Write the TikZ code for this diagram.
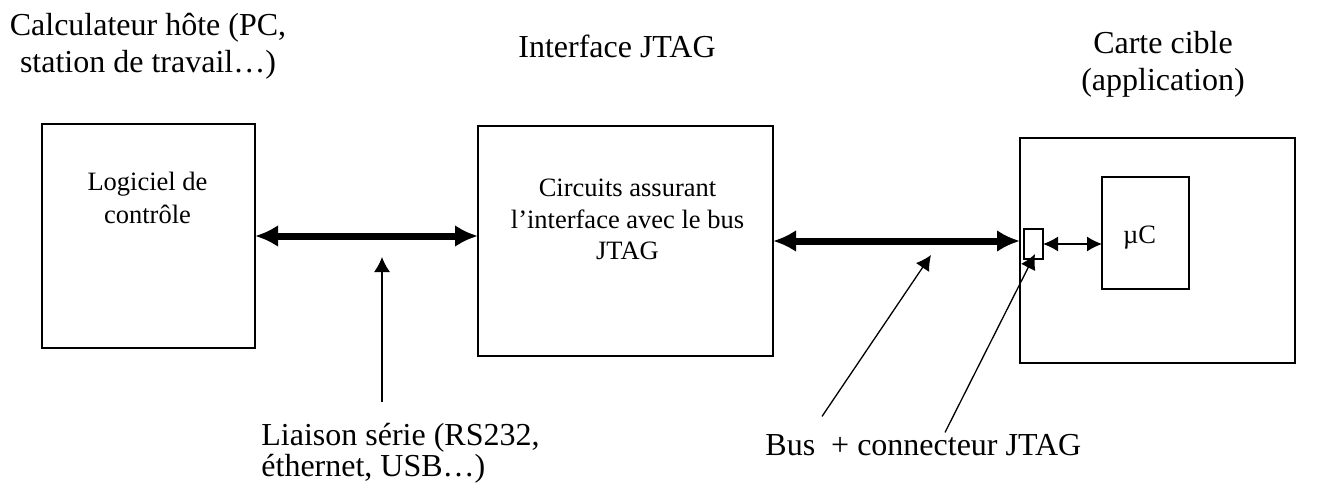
\documentclass[tikz,border=0pt]{standalone}
\usepackage{fontspec}
\setmainfont{Liberation Serif}
\usetikzlibrary{arrows.meta,calc}

\begin{document}
\begin{tikzpicture}[x=0.5pt,y=-0.5pt,
  bloc/.style={draw,line width=0.75pt,inner sep=0pt,outer sep=0pt},
  grandtexte/.style={font=\fontsize{16pt}{18.5pt}\selectfont,inner sep=0pt,align=center},
  petittexte/.style={font=\fontsize{13.25pt}{16.5pt}\selectfont,inner sep=0pt,align=center},
  lienbus/.style={line width=3.5pt,{Latex[length=11.5pt,width=11pt]}-{Latex[length=11.5pt,width=11pt]}},
  pointeur/.style={line width=0.65pt,-{Latex[length=7.5pt,width=8pt]}},
  doublefleche/.style={line width=0.65pt,{Latex[length=7.5pt,width=7.5pt]}-{Latex[length=7.5pt,width=7.5pt]}}]
\useasboundingbox (0,0) rectangle (1320,486);
% titres au-dessus des blocs
\node[grandtexte,anchor=north] (titrehote) at (148,13) {Calculateur hôte (PC,\\station de travail…)};
\node[grandtexte,anchor=base] (titrejtag) at (617,58) {Interface JTAG};
\node[grandtexte,anchor=north] (titrecarte) at (1163,31) {Carte cible\\(application)};
% blocs
\node[bloc,minimum width=106.5pt,minimum height=112pt] (hote) at (148.5,236) {};
\node[bloc,minimum width=147.5pt,minimum height=115pt] (jtag) at (625.5,241) {};
\node[bloc,minimum width=137.5pt,minimum height=112.5pt] (carte) at (1157.5,250.5) {};
\node[bloc,minimum width=43.5pt,minimum height=56pt,text height=12pt,text depth=2pt,
  font=\fontsize{13.25pt}{16pt}\selectfont] (uc) at (1145.5,233) {\hspace*{-6pt}µC};
\node[bloc,minimum width=9.5pt,minimum height=15pt] (conn) at (1033.5,244) {};
% textes dans les blocs
\node[petittexte,anchor=north] (txthote) at (147.5,172) {Logiciel de\\contrôle};
\node[petittexte,anchor=north,font=\fontsize{13.25pt}{15.75pt}\selectfont] (txtjtag) at (627.5,179) {Circuits assurant\\l’interface avec le bus\\JTAG};
% liaisons
\draw[lienbus] (hote.east) -- (hote.east -| jtag.west);
\draw[lienbus] (jtag.east) -- (jtag.east -| carte.west);
\draw[doublefleche] (conn.east) -- (conn.east -| uc.west);
% legendes du bas
\node[grandtexte,anchor=north west,align=left,font=\fontsize{16pt}{14.5pt}\selectfont] (liaisontxt) at (261,423) {Liaison série (RS232,\\éthernet, USB…)};
\node[grandtexte,anchor=base west] (bustxt) at (765,455) {Bus~~+ connecteur JTAG};
% fleches vers les legendes
\coordinate (liaisonbout) at (382,257);
\draw[pointeur] ($(liaisontxt.north -| liaisonbout)+(0,-21)$) -- (liaisonbout);
\coordinate (busbout) at (931,255);
\draw[pointeur] ($(bustxt.north west)+(57,-17)$) -- (busbout);
\draw[pointeur] ($(bustxt.north west)+(180,-1)$) -- ($(conn.south)+(1.5,-5)$);
\end{tikzpicture}
\end{document}
